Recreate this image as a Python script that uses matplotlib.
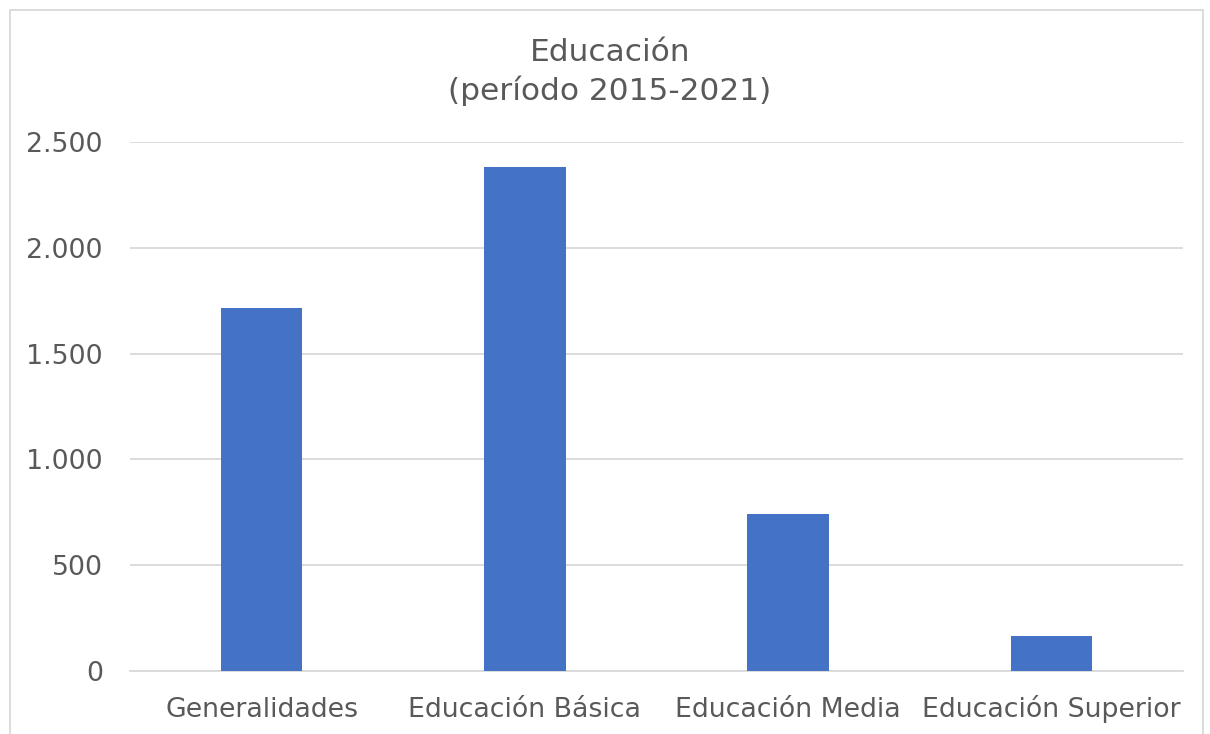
import matplotlib
matplotlib.use('Agg')
import matplotlib.pyplot as plt
from matplotlib.patches import Rectangle

# Datos
categorias = ['Generalidades', 'Educación Básica', 'Educación Media', 'Educación Superior']
valores = [1715, 2380, 743, 166]
yticks = [0, 500, 1000, 1500, 2000, 2500]
ytick_labels = ['0', '500', '1.000', '1.500', '2.000', '2.500']

texto = '#595959'
plt.rcParams['font.family'] = ['DejaVu Sans']

fig = plt.figure(figsize=(12.1, 7.34), dpi=100)
ax = fig.add_axes([130 / 1210, 63 / 734, (1183 - 130) / 1210, (671 - 142) / 734])

ax.bar(range(len(categorias)), valores, width=0.31, color='#4472c4', zorder=3)
ax.set_xlim(-0.5, len(categorias) - 0.5)
ax.set_ylim(0, 2500)
ax.set_yticks(yticks)
ax.set_yticklabels(ytick_labels)
ax.set_xticks(range(len(categorias)))
ax.set_xticklabels(categorias)
ax.grid(axis='y', color='#d9d9d9', linewidth=1.3, zorder=0)
ax.tick_params(axis='y', length=0, labelsize=19.3, colors=texto, pad=19.5)
ax.tick_params(axis='x', length=0, labelsize=19.3, colors=texto, pad=33)
for lbl in ax.get_xticklabels():
    lbl.set_verticalalignment('baseline')
for s in ['top', 'right', 'left']:
    ax.spines[s].set_visible(False)
ax.spines['bottom'].set_color('#d9d9d9')
ax.spines['bottom'].set_linewidth(1.3)

fig.text(0.504, 1 - 72 / 734, 'Educación\n(período 2015-2021)', ha='center', va='center',
         fontsize=22.5, color=texto, linespacing=1.35)

# borde del gráfico
fig.patches.append(Rectangle((10 / 1210, -0.05), (1203 - 10) / 1210, 1.05 - 10 / 734,
                             transform=fig.transFigure, fill=False,
                             edgecolor='#d9d9d9', linewidth=1.3))

fig.savefig('out.png', dpi=100)
